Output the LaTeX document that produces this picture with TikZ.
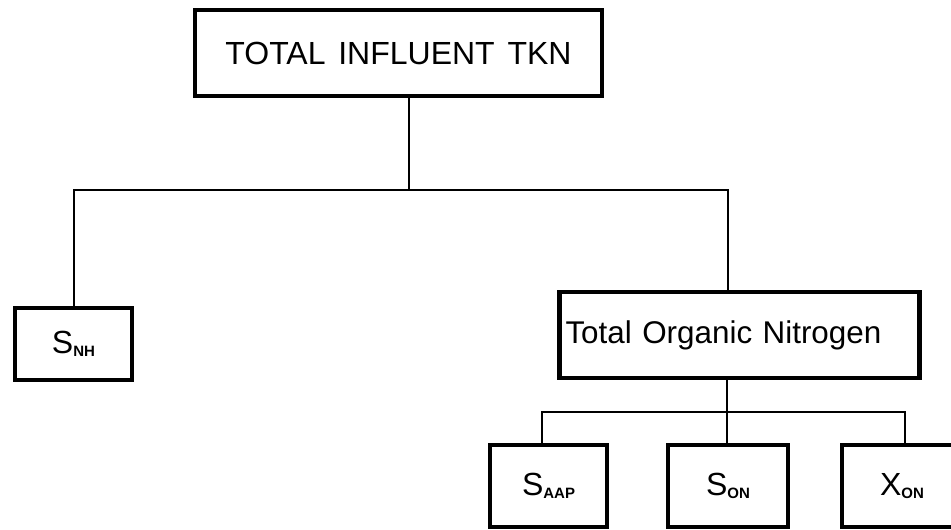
\documentclass[tikz,border=0pt]{standalone}
\usepackage{fontspec}
\setmainfont{Liberation Sans}
\usetikzlibrary{calc}

% symbol with a small bold subscript, as in the scanned chart
\newcommand{\compsym}[2]{{\fontsize{16}{18}\selectfont #1}\raisebox{-1.5pt}{\fontsize{7.5}{8}\selectfont\bfseries #2}}

\begin{document}
\begin{tikzpicture}[x=0.5pt, y=-0.5pt,
    box/.style={draw, line width=2.2pt, inner sep=0pt},
    wire/.style={line width=1pt}]
  % page: 951 x 529 px, one unit = one pixel
  \clip (0,0) rectangle (951,529);

  % ---------- top level ----------
  \node[box, minimum width=203.5pt, minimum height=43pt, font=\fontsize{16}{18}\selectfont]
    (tkn) at (398.5,53) {TOTAL\hspace{0.4em}INFLUENT\hspace{0.4em}TKN};

  % ---------- second level ----------
  \node[box, minimum width=58.5pt, minimum height=36pt] (snh) at (73.5,344) {\compsym{S}{NH}};
  \node[box, minimum width=177.5pt, minimum height=43pt, text width=174pt,
        inner xsep=3pt, align=left, font=\fontsize{15.7}{18}\selectfont]
    (ton) at (739.5,335) {Total Organic Nitrogen};

  % ---------- third level ----------
  \node[box, minimum width=58.5pt, minimum height=41pt] (saap) at (548.5,486) {\compsym{S}{AAP}};
  \node[box, minimum width=60pt, minimum height=41pt] (son) at (728,486) {\compsym{S}{ON}};
  \node[box, minimum width=60pt, minimum height=41pt] (xon) at (902,486) {\compsym{X}{ON}};

  % ---------- connectors ----------
  \coordinate (split1) at (409,190);
  \coordinate (split1r) at (728,190);
  \coordinate (split2) at (727,412);
  \coordinate (split2l) at (542,412);
  \coordinate (split2r) at (905,412);

  \draw[wire] (tkn.south -| split1) -- (split1);
  \draw[wire] (snh.north) |- (split1r) -- (split1r |- ton.north);
  \draw[wire] (ton.south -| split2) -- (split2 |- son.north);
  \draw[wire] (split2l |- saap.north) -- (split2l) -- (split2r) -- (split2r |- xon.north);
\end{tikzpicture}
\end{document}
